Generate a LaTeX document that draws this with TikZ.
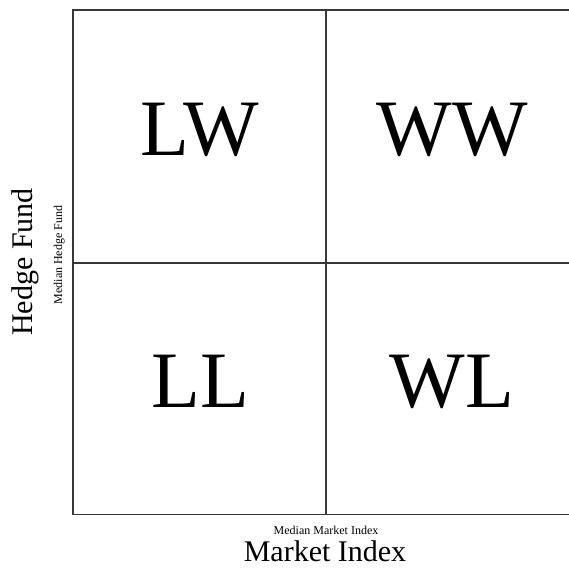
\documentclass[tikz,border=0pt]{standalone}
\usepackage{fontspec}
\setmainfont{Liberation Serif}
\begin{document}
\begin{tikzpicture}[x=1pt,y=-1pt,
  gridline/.style={draw=black!78,line width=1.8pt},
  quad/.style={font=\fontsize{80}{80}\selectfont,anchor=base,inner sep=0pt},
  biglabel/.style={font=\fontsize{30}{30}\selectfont,anchor=base,inner sep=0pt},
  smalllabel/.style={font=\fontsize{12}{12}\selectfont,anchor=base,inner sep=0pt}]
\useasboundingbox (0,0) rectangle (569,567);
\begin{scope}
\clip (0,0) rectangle (569,567);
\coordinate (tl) at (73,10);
\coordinate (tr) at (580,10);
\coordinate (bl) at (73,514.5);
\coordinate (br) at (580,514.5);
\coordinate (mt) at (325.7,10);
\coordinate (mb) at (325.7,514.5);
\coordinate (ml) at (73,263);
\coordinate (mr) at (580,263);
\draw[gridline] (tr) -- (tl) -- (bl) -- (br);
\draw[gridline] (mt) -- (mb);
\draw[gridline] (ml) -- (mr);
\end{scope}
\node[quad] (lw) at (200,155) {LW};
\node[quad] (ww) at (452,155) {WW};
\node[quad] (ll) at (200,407) {LL};
\node[quad] (wl) at (452,407) {WL};
\node[smalllabel] (mmi) at (326,534) {Median Market Index};
\node[biglabel] (mi) at (325,561.5) {Market Index};
\node[smalllabel,rotate=90] (mhf) at (62,255) {Median Hedge Fund};
\node[biglabel,rotate=90] (hf) at (32,262) {Hedge Fund};
\end{tikzpicture}
\end{document}
